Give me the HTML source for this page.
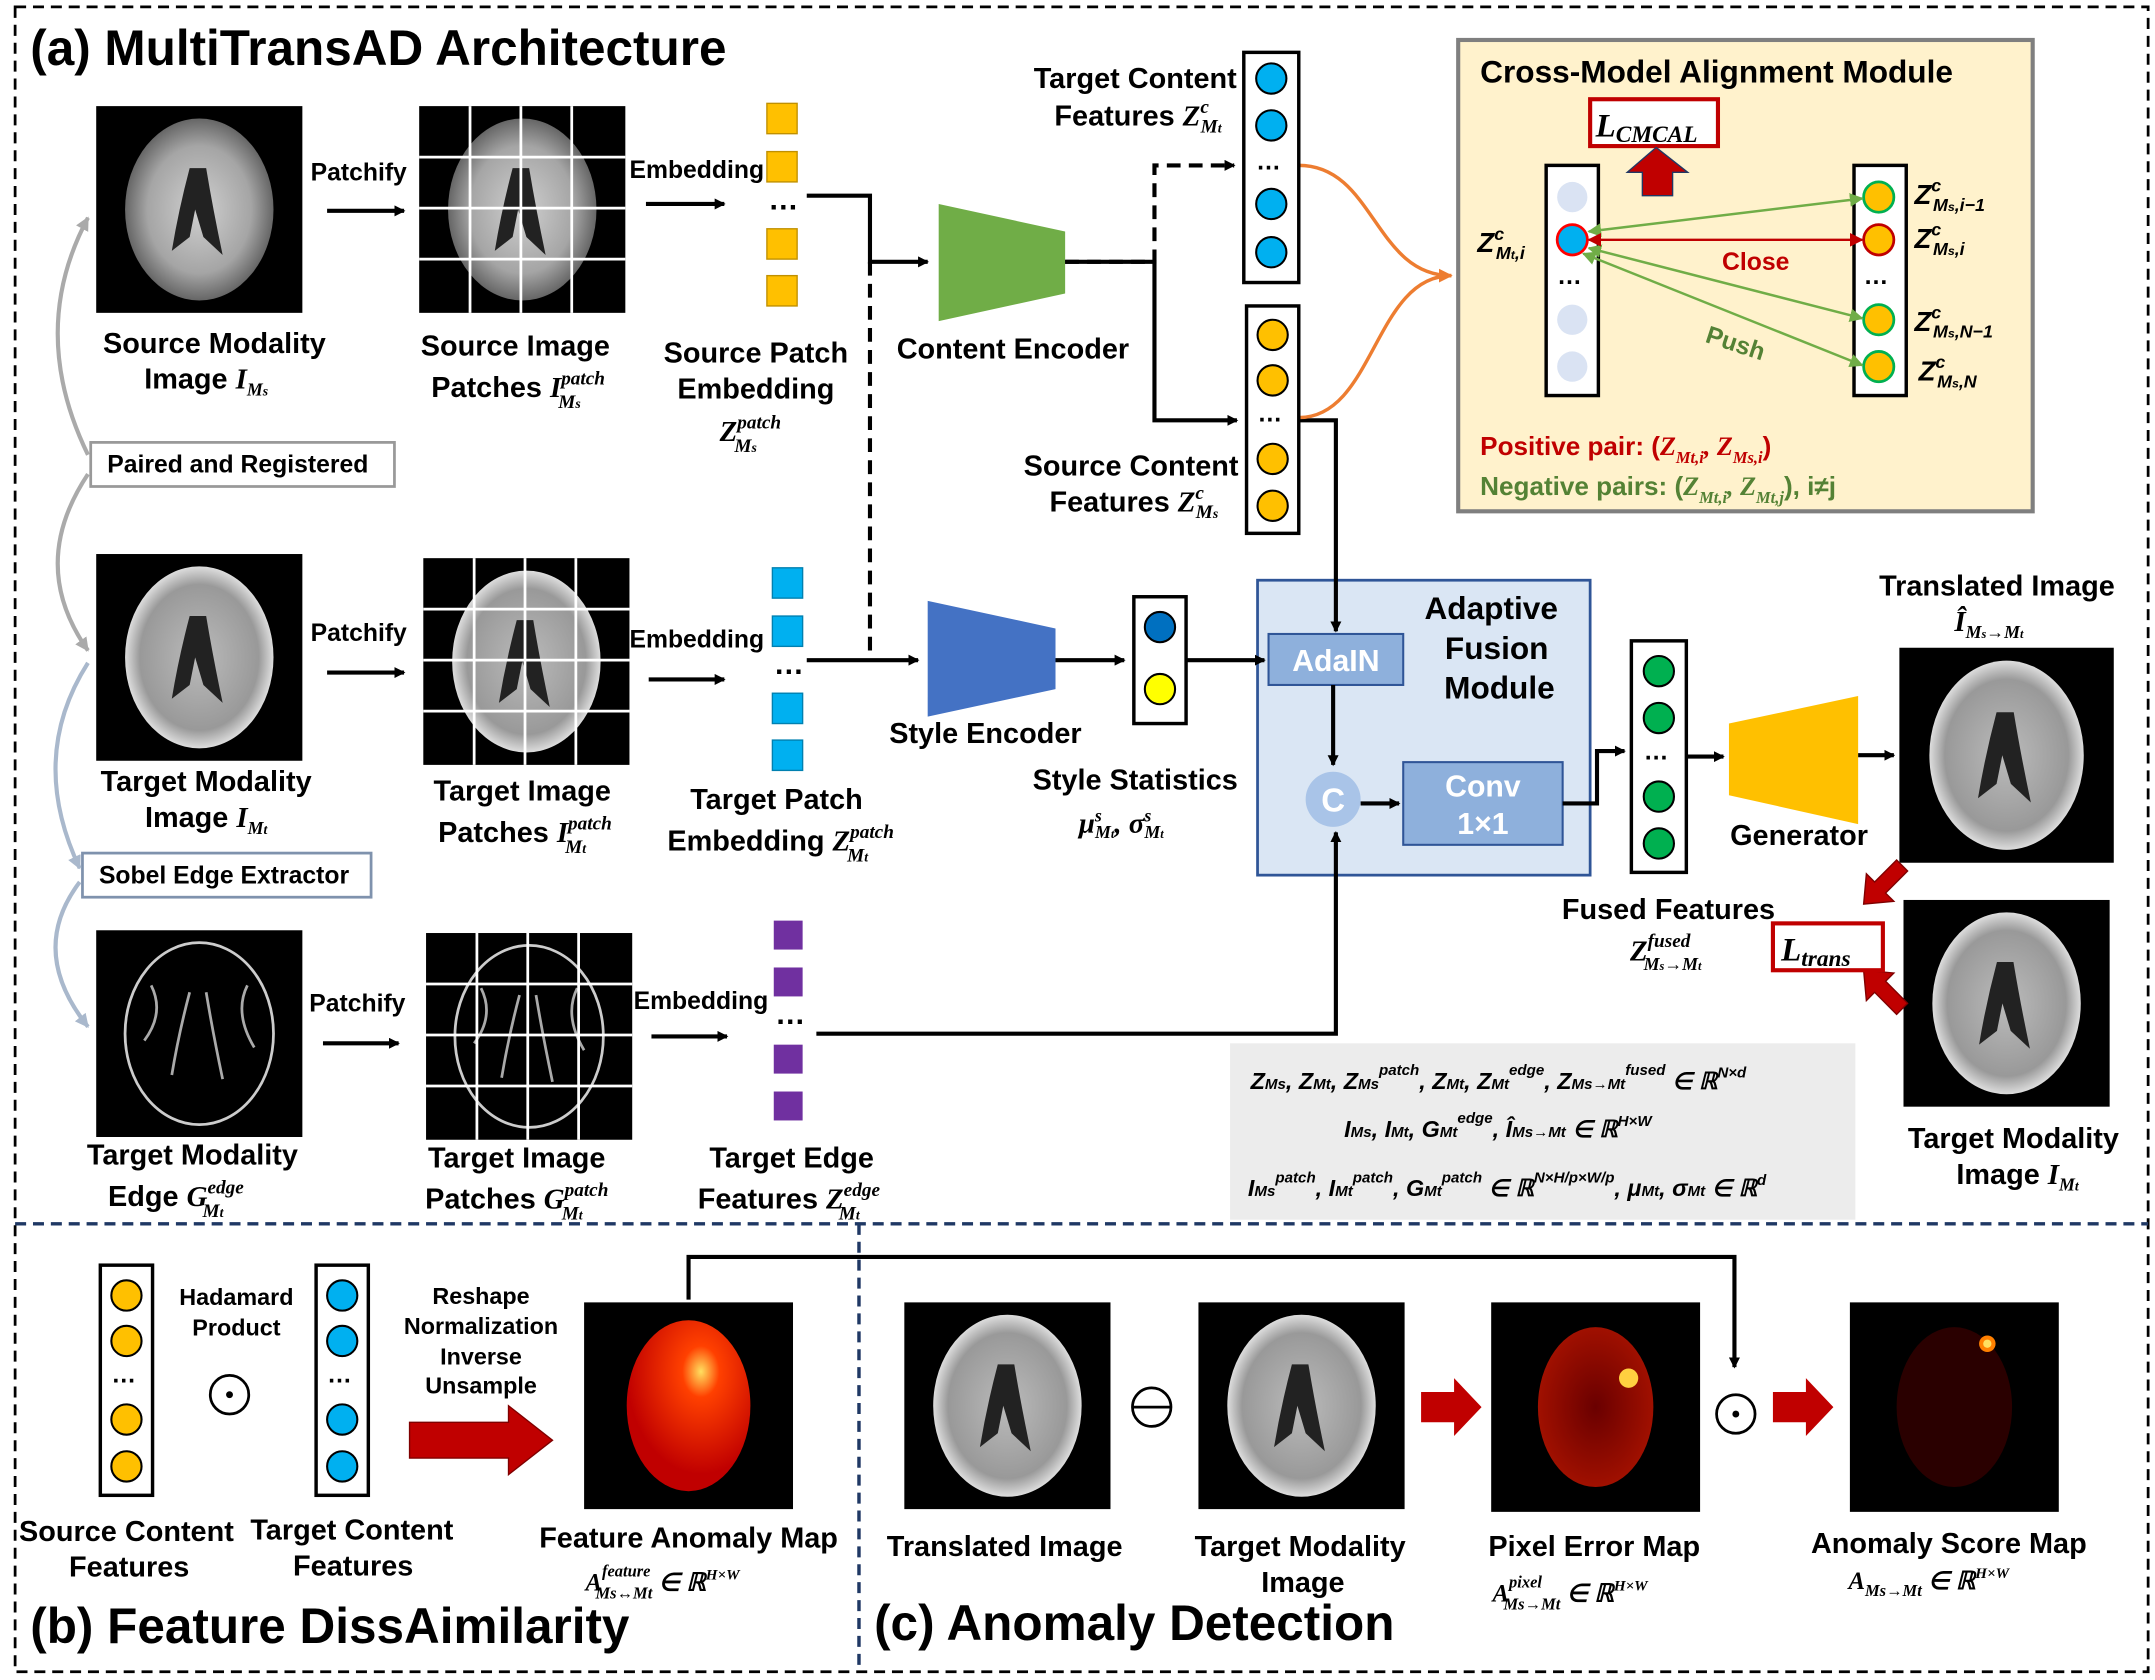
<!DOCTYPE html>
<html><head><meta charset="utf-8"><style>
html,body{margin:0;padding:0;background:#fff;}
svg{display:block}
text{font-family:"Liberation Sans",sans-serif;font-weight:bold;}
.m{font-family:"Liberation Serif",serif;font-style:italic;font-weight:bold;}
</style></head><body>
<svg width="2155" height="1680" viewBox="0 0 1568 1219" preserveAspectRatio="none" xmlns="http://www.w3.org/2000/svg">
<defs>
<marker id="ah" markerWidth="8" markerHeight="8" refX="7" refY="4" orient="auto" markerUnits="userSpaceOnUse"><path d="M0,0 L8,4 L0,8 z" fill="#000"/></marker>
<marker id="ahg" markerWidth="10" markerHeight="10" refX="9" refY="5" orient="auto" markerUnits="userSpaceOnUse"><path d="M0,0 L10,5 L0,10 z" fill="#aaa"/></marker>
<marker id="ahb" markerWidth="10" markerHeight="10" refX="9" refY="5" orient="auto" markerUnits="userSpaceOnUse"><path d="M0,0 L10,5 L0,10 z" fill="#a9b8cc"/></marker>
<marker id="ahgr" markerWidth="10" markerHeight="10" refX="9" refY="5" orient="auto-start-reverse" markerUnits="userSpaceOnUse"><path d="M0,0 L10,5 L0,10 z" fill="#70ad47"/></marker>
<marker id="ahr" markerWidth="10" markerHeight="10" refX="9" refY="5" orient="auto-start-reverse" markerUnits="userSpaceOnUse"><path d="M0,0 L10,5 L0,10 z" fill="#c00000"/></marker>
<marker id="aho" markerWidth="10" markerHeight="10" refX="9" refY="5" orient="auto" markerUnits="userSpaceOnUse"><path d="M0,0 L10,5 L0,10 z" fill="#ed7d31"/></marker>
<radialGradient id="bg1" cx="50%" cy="50%" r="50%"><stop offset="0" stop-color="#d0d0d0"/><stop offset="0.7" stop-color="#a5a5a5"/><stop offset="1" stop-color="#666"/></radialGradient>
<radialGradient id="bg2" cx="50%" cy="50%" r="50%"><stop offset="0" stop-color="#bbb"/><stop offset="0.8" stop-color="#999"/><stop offset="1" stop-color="#ddd"/></radialGradient>
<radialGradient id="red1" cx="60%" cy="30%" r="60%"><stop offset="0" stop-color="#ffe060"/><stop offset="0.25" stop-color="#ff4000"/><stop offset="1" stop-color="#c00000"/></radialGradient>
<radialGradient id="pe" cx="50%" cy="50%" r="50%"><stop offset="0" stop-color="#6a0000"/><stop offset="1" stop-color="#a01000"/></radialGradient>
<g id="brain"><rect x="0" y="0" width="150" height="150" fill="#000"/><ellipse cx="75" cy="75" rx="54" ry="66" fill="url(#bg1)"/><path d="M68,45 Q60,75 55,105 L68,95 L72,75 L78,95 L92,108 Q85,75 80,45 z" fill="#222"/></g>
<g id="brainT"><rect x="0" y="0" width="150" height="150" fill="#000"/><ellipse cx="75" cy="75" rx="54" ry="66" fill="url(#bg2)"/><path d="M68,45 Q60,75 55,105 L68,95 L72,75 L78,95 L92,108 Q85,75 80,45 z" fill="#222"/></g>
<g id="brainE"><rect x="0" y="0" width="150" height="150" fill="#000"/><ellipse cx="75" cy="75" rx="54" ry="66" fill="none" stroke="#ccc" stroke-width="2"/><path d="M68,45 Q60,75 55,105 M80,45 Q85,75 92,108 M40,40 Q50,60 35,80 M110,40 Q100,60 115,85" fill="none" stroke="#aaa" stroke-width="2"/></g>
<g id="grid"><path d="M37,0 V150 M74,0 V150 M111,0 V150 M0,37 H150 M0,74 H150 M0,111 H150" stroke="#fff" stroke-width="2"/></g>
</defs>

<rect x="11" y="5" width="1552" height="1208" fill="none" stroke="#000" stroke-width="2" stroke-dasharray="8,5"/>
<line x1="11" y1="888" x2="1563" y2="888" stroke="#1f3864" stroke-width="2.5" stroke-dasharray="8,5"/>
<line x1="625" y1="888" x2="625" y2="1213" stroke="#1f3864" stroke-width="2.5" stroke-dasharray="8,5"/>

<text x="22" y="47" font-size="36">(a) MultiTransAD Architecture</text>

<use href="#brain" x="70" y="77"/>
<use href="#brain" x="305" y="77"/><use href="#grid" x="305" y="77"/>
<use href="#brainT" x="70" y="402"/>
<use href="#brainT" x="308" y="405"/><use href="#grid" x="308" y="405"/>
<use href="#brainE" x="70" y="675"/>
<use href="#brainE" x="310" y="677"/><use href="#grid" x="310" y="677"/>

<g font-size="18">
<text x="226" y="131">Patchify</text>
<text x="226" y="465">Patchify</text>
<text x="225" y="734">Patchify</text>
<text x="458" y="129">Embedding</text>
<text x="458" y="470">Embedding</text>
<text x="461" y="732">Embedding</text>
</g>
<g stroke="#000" stroke-width="3" marker-end="url(#ah)">
<line x1="238" y1="153" x2="294" y2="153"/>
<line x1="238" y1="488" x2="294" y2="488"/>
<line x1="235" y1="757" x2="290" y2="757"/>
<line x1="470" y1="148" x2="527" y2="148"/>
<line x1="472" y1="493" x2="527" y2="493"/>
<line x1="474" y1="752" x2="529" y2="752"/>
</g>

<g font-size="21" text-anchor="middle">
<text x="156" y="256">Source Modality</text>
<text x="150" y="282">Image <tspan class="m">I</tspan><tspan class="m" font-size="13" dy="5">M<tspan font-size="10">s</tspan></tspan></text>
<text x="375" y="258">Source Image</text>
<text x="377" y="288">Patches <tspan class="m">I</tspan><tspan class="m" font-size="14" dy="-9">patch</tspan><tspan class="m" font-size="14" dx="-34" dy="17">M<tspan font-size="10">s</tspan></tspan><tspan dx="14"> </tspan></text>
<text x="550" y="263">Source Patch</text>
<text x="550" y="289">Embedding</text>
<text x="546" y="320"><tspan class="m">Z</tspan><tspan class="m" font-size="14" dy="-9">patch</tspan><tspan class="m" font-size="14" dx="-34" dy="17">M<tspan font-size="10">s</tspan></tspan><tspan dx="14"> </tspan></text>
<text x="150" y="574">Target Modality</text>
<text x="150" y="600">Image <tspan class="m">I</tspan><tspan class="m" font-size="13" dy="5">M<tspan font-size="10">t</tspan></tspan></text>
<text x="380" y="581">Target Image</text>
<text x="382" y="611">Patches <tspan class="m">I</tspan><tspan class="m" font-size="14" dy="-9">patch</tspan><tspan class="m" font-size="14" dx="-34" dy="17">M<tspan font-size="10">t</tspan></tspan><tspan dx="14"> </tspan></text>
<text x="565" y="587">Target Patch</text>
<text x="568" y="617">Embedding <tspan class="m">Z</tspan><tspan class="m" font-size="14" dy="-9">patch</tspan><tspan class="m" font-size="14" dx="-34" dy="17">M<tspan font-size="10">t</tspan></tspan><tspan dx="14"> </tspan></text>
<text x="140" y="845">Target Modality</text>
<text x="128" y="875">Edge <tspan class="m">G</tspan><tspan class="m" font-size="14" dy="-9">edge</tspan><tspan class="m" font-size="14" dx="-30" dy="17">M<tspan font-size="10">t</tspan></tspan><tspan dx="12"> </tspan></text>
<text x="376" y="847">Target Image</text>
<text x="376" y="877">Patches <tspan class="m">G</tspan><tspan class="m" font-size="14" dy="-9">patch</tspan><tspan class="m" font-size="14" dx="-34" dy="17">M<tspan font-size="10">t</tspan></tspan><tspan dx="14"> </tspan></text>
<text x="576" y="847">Target Edge</text>
<text x="574" y="877">Features <tspan class="m">Z</tspan><tspan class="m" font-size="14" dy="-9">edge</tspan><tspan class="m" font-size="14" dx="-30" dy="17">M<tspan font-size="10">t</tspan></tspan><tspan dx="12"> </tspan></text>
<text x="737" y="260">Content Encoder</text>
<text x="717" y="539">Style Encoder</text>
<text x="826" y="573">Style Statistics</text>
<text x="826" y="64">Target Content</text>
<text x="828" y="91">Features <tspan class="m">Z</tspan><tspan class="m" font-size="14" dy="-9">c</tspan><tspan class="m" font-size="14" dx="-6" dy="14">M<tspan font-size="10">t</tspan></tspan></text>
<text x="823" y="345">Source Content</text>
<text x="825" y="371">Features <tspan class="m">Z</tspan><tspan class="m" font-size="14" dy="-9">c</tspan><tspan class="m" font-size="14" dx="-6" dy="14">M<tspan font-size="10">s</tspan></tspan></text>
<text x="1453" y="432">Translated Image</text>
<text x="1309" y="613">Generator</text>
<text x="1214" y="667">Fused Features</text>
<text x="1465" y="833">Target Modality</text>
<text x="1468" y="859">Image <tspan class="m">I</tspan><tspan class="m" font-size="13" dy="5">M<tspan font-size="10">t</tspan></tspan></text>
</g>
<text x="785" y="604" font-size="21" class="m">μ<tspan font-size="13" dy="-8">s</tspan><tspan font-size="13" dx="-5" dy="12">M<tspan font-size="9">t</tspan></tspan><tspan dy="-4">, σ</tspan><tspan font-size="13" dy="-8">s</tspan><tspan font-size="13" dx="-5" dy="12">M<tspan font-size="9">t</tspan></tspan></text>
<text x="1186" y="697" font-size="21" class="m">Z<tspan font-size="14" dy="-10">fused</tspan><tspan font-size="13" dx="-34" dy="17">M<tspan font-size="9">s</tspan>→M<tspan font-size="9">t</tspan></tspan></text>
<text x="1422" y="458" font-size="21" class="m">Î<tspan font-size="13" dy="5">M<tspan font-size="9">s</tspan>→M<tspan font-size="9">t</tspan></tspan></text>

<rect x="66" y="321" width="221" height="32" fill="#fff" stroke="#999" stroke-width="2"/>
<text x="78" y="343" font-size="18">Paired and Registered</text>
<rect x="60" y="619" width="210" height="32" fill="#fff" stroke="#7f92ad" stroke-width="2"/>
<text x="72" y="641" font-size="18">Sobel Edge Extractor</text>
<g fill="none" stroke-width="3">
<path d="M64,330 Q20,240 64,158" stroke="#aaa" marker-end="url(#ahg)"/>
<path d="M64,344 Q20,410 64,472" stroke="#aaa" marker-end="url(#ahg)"/>
<path d="M64,481 Q20,550 58,630" stroke="#a9b8cc" marker-end="url(#ahb)"/>
<path d="M58,640 Q20,690 64,745" stroke="#a9b8cc" marker-end="url(#ahb)"/>
</g>

<g fill="#ffc000" stroke="#c09000"><rect x="558" y="75" width="22" height="22"/><rect x="558" y="110" width="22" height="22"/><rect x="558" y="166" width="22" height="22"/><rect x="558" y="200" width="22" height="22"/></g>
<g fill="#00b0f0" stroke="#0080b0"><rect x="562" y="412" width="22" height="22"/><rect x="562" y="447" width="22" height="22"/><rect x="562" y="503" width="22" height="22"/><rect x="562" y="537" width="22" height="22"/></g>
<g fill="#7030a0"><rect x="563" y="668" width="21" height="21"/><rect x="563" y="702" width="21" height="21"/><rect x="563" y="758" width="21" height="21"/><rect x="563" y="792" width="21" height="21"/></g>
<g font-size="22"><text x="559" y="152">…</text><text x="563" y="489">…</text><text x="564" y="743">…</text></g>

<polygon points="683,148 775,168 775,213 683,233" fill="#70ad47"/>
<polygon points="675,436 768,456 768,500 675,520" fill="#4472c4"/>
<polygon points="1258,525 1352,505 1352,598 1258,577" fill="#ffc000"/>

<!-- fusion module -->
<rect x="915" y="421" width="242" height="214" fill="#dae6f4" stroke="#2f5597" stroke-width="2"/>
<g font-size="23" text-anchor="middle"><text x="1085" y="449">Adaptive</text><text x="1089" y="478">Fusion</text><text x="1091" y="507">Module</text></g>
<rect x="923" y="460" width="98" height="37" fill="#8eb0dc" stroke="#2f5597" stroke-width="1.5"/>
<text x="972" y="487" font-size="22" fill="#fff" text-anchor="middle">AdaIN</text>
<circle cx="970" cy="580" r="20" fill="#a9c4e8"/>
<text x="970" y="589" font-size="24" fill="#fff" text-anchor="middle">C</text>
<rect x="1021" y="553" width="116" height="60" fill="#8eb0dc" stroke="#2f5597" stroke-width="1.5"/>
<text x="1079" y="578" font-size="22" fill="#fff" text-anchor="middle">Conv</text>
<text x="1079" y="605" font-size="22" fill="#fff" text-anchor="middle">1×1</text>

<g stroke="#000" stroke-width="3" fill="none">
<path d="M587,142 H633 V190 H675" marker-end="url(#ah)"/>
<path d="M587,479 H668" marker-end="url(#ah)"/>
<path d="M633,190 V479" stroke-dasharray="10,6"/>
<path d="M775,190 H840 V120 H898" stroke-dasharray="10,6" marker-end="url(#ah)"/>
<path d="M775,190 H840 V305 H900" marker-end="url(#ah)"/>
<path d="M768,479 H818" marker-end="url(#ah)"/>
<path d="M863,479 H920" marker-end="url(#ah)"/>
<path d="M945,305 H972 V458" marker-end="url(#ah)"/>
<path d="M970,497 V555" marker-end="url(#ah)"/>
<path d="M990,583 H1018" marker-end="url(#ah)"/>
<path d="M1137,583 H1162 V545 H1182" marker-end="url(#ah)"/>
<path d="M1227,549 H1254" marker-end="url(#ah)"/>
<path d="M1352,548 H1378" marker-end="url(#ah)"/>
<path d="M594,750 H972 V604" marker-end="url(#ah)"/>
</g>
<g stroke="#ed7d31" stroke-width="2.5" fill="none">
<path d="M945,120 C1000,120 1000,200 1056,200" marker-end="url(#aho)"/>
<path d="M945,303 C1000,303 1000,200 1056,200"/>
</g>

<rect x="905" y="38" width="40" height="167" fill="#fff" stroke="#000" stroke-width="2.5"/>
<g fill="#00b0f0" stroke="#000" stroke-width="1.5"><circle cx="925" cy="57" r="11"/><circle cx="925" cy="91" r="11"/><circle cx="925" cy="148" r="11"/><circle cx="925" cy="183" r="11"/></g>
<text x="914" y="123" font-size="18">…</text>
<rect x="907" y="222" width="38" height="165" fill="#fff" stroke="#000" stroke-width="2.5"/>
<g fill="#ffc000" stroke="#000" stroke-width="1.5"><circle cx="926" cy="243" r="11"/><circle cx="926" cy="276" r="11"/><circle cx="926" cy="333" r="11"/><circle cx="926" cy="367" r="11"/></g>
<text x="915" y="306" font-size="18">…</text>
<rect x="825" y="433" width="38" height="92" fill="#fff" stroke="#000" stroke-width="2.5"/>
<circle cx="844" cy="455" r="11" fill="#0070c0" stroke="#000" stroke-width="1.5"/>
<circle cx="844" cy="500" r="11" fill="#ffff00" stroke="#000" stroke-width="1.5"/>

<rect x="1187" y="465" width="40" height="168" fill="#fff" stroke="#000" stroke-width="2.5"/>
<g fill="#00b050" stroke="#000" stroke-width="1.5"><circle cx="1207" cy="487" r="11"/><circle cx="1207" cy="521" r="11"/><circle cx="1207" cy="578" r="11"/><circle cx="1207" cy="612" r="11"/></g>
<text x="1196" y="551" font-size="18">…</text>

<use href="#brainT" transform="translate(1382,470) scale(1.04)"/>
<use href="#brainT" x="1385" y="653"/>
<!-- red diagonal arrows -->
<g fill="#c00000" stroke="#7f0000" stroke-width="1">
<polygon points="1388,632 1372,648 1378,654 1356,656 1358,634 1364,640 1380,624"/>
<polygon points="1388,728 1372,712 1378,706 1356,704 1358,726 1364,720 1380,736"/>
</g>
<rect x="1290" y="670" width="80" height="34" fill="#fff" stroke="#c00000" stroke-width="3"/>
<text x="1296" y="697" font-size="24" class="m">L<tspan font-size="17" dy="4">trans</tspan></text>

<rect x="1061" y="29" width="418" height="342" fill="#fff2cc" stroke="#7f7f7f" stroke-width="3"/>
<text x="1077" y="60" font-size="23">Cross-Model Alignment Module</text>
<rect x="1157" y="72" width="93" height="34" fill="#fff" stroke="#c00000" stroke-width="3"/>
<text x="1161" y="99" font-size="24" class="m">L<tspan font-size="17" dy="4">CMCAL</tspan></text>
<polygon points="1205,107 1228,125 1217,125 1217,142 1195,142 1195,125 1184,125" fill="#c00000" stroke="#203864"/>
<rect x="1125" y="120" width="38" height="167" fill="#fff" stroke="#000" stroke-width="2.5"/>
<g fill="#dae3f3"><circle cx="1144" cy="143" r="11"/><circle cx="1144" cy="232" r="11"/><circle cx="1144" cy="266" r="11"/></g>
<circle cx="1144" cy="174" r="11" fill="#00b0f0" stroke="#ff0000" stroke-width="2"/>
<text x="1133" y="206" font-size="18">…</text>
<rect x="1349" y="120" width="38" height="167" fill="#fff" stroke="#000" stroke-width="2.5"/>
<g fill="#ffc000" stroke="#00b050" stroke-width="2"><circle cx="1367" cy="143" r="11"/><circle cx="1367" cy="232" r="11"/><circle cx="1367" cy="266" r="11"/></g>
<circle cx="1367" cy="174" r="11" fill="#ffc000" stroke="#c00000" stroke-width="2"/>
<text x="1356" y="206" font-size="18">…</text>
<g stroke="#70ad47" stroke-width="1.8" marker-start="url(#ahgr)" marker-end="url(#ahgr)">
<line x1="1156" y1="168" x2="1355" y2="144"/>
<line x1="1156" y1="180" x2="1355" y2="231"/>
<line x1="1152" y1="184" x2="1355" y2="265"/>
</g>
<line x1="1156" y1="174" x2="1355" y2="174" stroke="#c00000" stroke-width="1.8" marker-start="url(#ahr)" marker-end="url(#ahr)"/>
<text x="1253" y="196" font-size="18" fill="#c00000">Close</text>
<text x="1240" y="248" font-size="18" fill="#548235" transform="rotate(18 1240 248)">Push</text>
<g class="m" font-size="20">
<text x="1075" y="183">Z<tspan font-size="13" dy="-9">c</tspan><tspan font-size="13" dx="-6" dy="14">M<tspan font-size="9">t</tspan>,i</tspan></text>
<text x="1393" y="148">Z<tspan font-size="13" dy="-9">c</tspan><tspan font-size="13" dx="-6" dy="14">M<tspan font-size="9">s</tspan>,i−1</tspan></text>
<text x="1393" y="180">Z<tspan font-size="13" dy="-9">c</tspan><tspan font-size="13" dx="-6" dy="14">M<tspan font-size="9">s</tspan>,i</tspan></text>
<text x="1393" y="240">Z<tspan font-size="13" dy="-9">c</tspan><tspan font-size="13" dx="-6" dy="14">M<tspan font-size="9">s</tspan>,N−1</tspan></text>
<text x="1396" y="276">Z<tspan font-size="13" dy="-9">c</tspan><tspan font-size="13" dx="-6" dy="14">M<tspan font-size="9">s</tspan>,N</tspan></text>
</g>
<text x="1077" y="330" font-size="19" fill="#c00000">Positive pair: (<tspan class="m">Z<tspan font-size="12" dy="6">Mt,i</tspan><tspan dy="-6">, Z</tspan><tspan font-size="12" dy="6">Ms,i</tspan></tspan><tspan dy="-6">)</tspan></text>
<text x="1077" y="359" font-size="19" fill="#548235">Negative pairs: (<tspan class="m">Z<tspan font-size="12" dy="6">Mt,i</tspan><tspan dy="-6">, Z</tspan><tspan font-size="12" dy="6">Mt,j</tspan></tspan><tspan dy="-6">), i≠j</tspan></text>

<rect x="895" y="757" width="455" height="128" fill="#ececec"/>
<g class="m" font-size="17">
<text x="910" y="790">Z<tspan font-size="11">Ms</tspan>, Z<tspan font-size="11">Mt</tspan>, Z<tspan font-size="11">Ms</tspan><tspan font-size="11" dy="-10">patch</tspan><tspan dy="10">, Z</tspan><tspan font-size="11">Mt</tspan>, Z<tspan font-size="11">Mt</tspan><tspan font-size="11" dy="-10">edge</tspan><tspan dy="10">, Z</tspan><tspan font-size="11">Ms→Mt</tspan><tspan font-size="11" dy="-10">fused</tspan><tspan dy="10"> ∈ ℝ</tspan><tspan font-size="11" dy="-8">N×d</tspan></text>
<text x="978" y="825">I<tspan font-size="11">Ms</tspan>, I<tspan font-size="11">Mt</tspan>, G<tspan font-size="11">Mt</tspan><tspan font-size="11" dy="-10">edge</tspan><tspan dy="10">, Î</tspan><tspan font-size="11">Ms→Mt</tspan> ∈ ℝ<tspan font-size="11" dy="-8">H×W</tspan></text>
<text x="908" y="868">I<tspan font-size="11">Ms</tspan><tspan font-size="11" dy="-10">patch</tspan><tspan dy="10">, I</tspan><tspan font-size="11">Mt</tspan><tspan font-size="11" dy="-10">patch</tspan><tspan dy="10">, G</tspan><tspan font-size="11">Mt</tspan><tspan font-size="11" dy="-10">patch</tspan><tspan dy="10"> ∈ ℝ</tspan><tspan font-size="11" dy="-10">N×H/p×W/p</tspan><tspan dy="10">, μ</tspan><tspan font-size="11">Mt</tspan>, σ<tspan font-size="11">Mt</tspan> ∈ ℝ<tspan font-size="11" dy="-8">d</tspan></text>
</g>

<rect x="73" y="918" width="38" height="167" fill="#fff" stroke="#000" stroke-width="2.5"/>
<g fill="#ffc000" stroke="#000" stroke-width="1.5"><circle cx="92" cy="940" r="11"/><circle cx="92" cy="973" r="11"/><circle cx="92" cy="1030" r="11"/><circle cx="92" cy="1064" r="11"/></g>
<text x="81" y="1003" font-size="18">…</text>
<rect x="230" y="918" width="38" height="167" fill="#fff" stroke="#000" stroke-width="2.5"/>
<g fill="#00b0f0" stroke="#000" stroke-width="1.5"><circle cx="249" cy="940" r="11"/><circle cx="249" cy="973" r="11"/><circle cx="249" cy="1030" r="11"/><circle cx="249" cy="1064" r="11"/></g>
<text x="238" y="1003" font-size="18">…</text>
<g font-size="17" text-anchor="middle"><text x="172" y="947">Hadamard</text><text x="172" y="969">Product</text>
<text x="350" y="946">Reshape</text><text x="350" y="968">Normalization</text><text x="350" y="990">Inverse</text><text x="350" y="1011">Unsample</text></g>
<circle cx="167" cy="1012" r="14" fill="none" stroke="#000" stroke-width="2"/><circle cx="167" cy="1012" r="2.5"/>
<polygon points="298,1032 370,1032 370,1020 402,1045 370,1070 370,1058 298,1058" fill="#c00000" stroke="#7f0000"/>
<rect x="425" y="945" width="152" height="150" fill="#000"/>
<ellipse cx="501" cy="1020" rx="45" ry="62" fill="url(#red1)"/>
<g font-size="21" text-anchor="middle">
<text x="92" y="1118">Source Content</text><text x="94" y="1144">Features</text>
<text x="256" y="1117">Target Content</text><text x="257" y="1143">Features</text>
<text x="501" y="1123">Feature Anomaly Map</text>
<text x="731" y="1129">Translated Image</text>
<text x="946" y="1129">Target Modality</text><text x="948" y="1155">Image</text>
<text x="1160" y="1129">Pixel Error Map</text>
<text x="1418" y="1127">Anomaly Score Map</text>
</g>
<text x="426" y="1154" font-size="18" class="m">A<tspan font-size="12" dy="-10">feature</tspan><tspan font-size="12" dx="-40" dy="16">Ms↔Mt</tspan><tspan dy="-6"> ∈ ℝ</tspan><tspan font-size="11" dy="-8">H×W</tspan></text>
<text x="1086" y="1162" font-size="18" class="m">A<tspan font-size="12" dy="-10">pixel</tspan><tspan font-size="12" dx="-28" dy="16">Ms→Mt</tspan><tspan dy="-6"> ∈ ℝ</tspan><tspan font-size="11" dy="-8">H×W</tspan></text>
<text x="1345" y="1153" font-size="18" class="m">A<tspan font-size="12" dy="5">Ms→Mt</tspan><tspan dy="-5"> ∈ ℝ</tspan><tspan font-size="11" dy="-8">H×W</tspan></text>
<text x="22" y="1192" font-size="36">(b) Feature DissAimilarity</text>
<text x="636" y="1190" font-size="36">(c) Anomaly Detection</text>

<use href="#brainT" x="658" y="945"/>
<use href="#brainT" x="872" y="945"/>
<rect x="1085" y="945" width="152" height="152" fill="#000"/>
<ellipse cx="1161" cy="1021" rx="42" ry="58" fill="url(#pe)"/>
<circle cx="1185" cy="1000" r="7" fill="#ffd040"/>
<rect x="1346" y="945" width="152" height="152" fill="#000"/>
<ellipse cx="1422" cy="1021" rx="42" ry="58" fill="#2a0000"/>
<circle cx="1446" cy="975" r="6" fill="#ff8000"/><circle cx="1446" cy="975" r="3" fill="#ffe060"/>
<circle cx="838" cy="1021" r="14" fill="none" stroke="#000" stroke-width="2"/><line x1="824" y1="1021" x2="852" y2="1021" stroke="#000" stroke-width="2"/>
<circle cx="1263" cy="1026" r="14" fill="none" stroke="#000" stroke-width="2"/><circle cx="1263" cy="1026" r="2.5"/>
<polygon points="1034,1010 1058,1010 1058,1000 1078,1021 1058,1042 1058,1032 1034,1032" fill="#c00000"/>
<polygon points="1290,1010 1314,1010 1314,1000 1334,1021 1314,1042 1314,1032 1290,1032" fill="#c00000"/>
<path d="M501,943 V912 H1262 V992" fill="none" stroke="#000" stroke-width="3" marker-end="url(#ah)"/>
</svg>
</body></html>
